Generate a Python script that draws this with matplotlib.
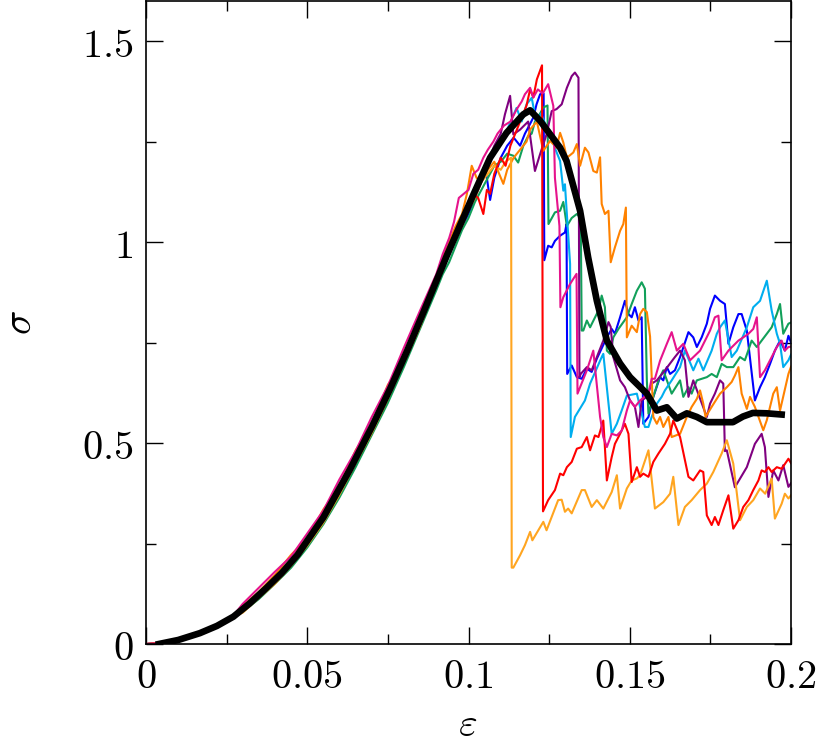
import numpy as np
import matplotlib
matplotlib.use("Agg")
import matplotlib.pyplot as plt
from matplotlib.ticker import MultipleLocator, FixedLocator, FixedFormatter

plt.rcParams['mathtext.fontset'] = 'cm'

# start of the loading branch, identical for all samples
start_x = [0.0, 0.005, 0.010, 0.0167, 0.022, 0.0265]
start_y = [0.0, 0.002, 0.010, 0.027, 0.045, 0.065]

# loading branch per sample, on a common strain grid
rise_x = [0.030, 0.035, 0.040, 0.045, 0.050, 0.055, 0.060, 0.065, 0.070, 0.075, 0.080, 0.085]
blue_rise = [0.085, 0.120, 0.158, 0.200, 0.252, 0.310, 0.380, 0.455, 0.530, 0.615, 0.700, 0.790]
red_rise = [0.088, 0.124, 0.163, 0.206, 0.258, 0.318, 0.388, 0.466, 0.545, 0.628, 0.716, 0.812]
green_rise = [0.080, 0.112, 0.150, 0.190, 0.240, 0.298, 0.365, 0.440, 0.520, 0.600, 0.690, 0.785]
purple_rise = [0.089, 0.125, 0.164, 0.208, 0.262, 0.320, 0.392, 0.468, 0.548, 0.630, 0.720, 0.815]
dorange_rise = [0.095, 0.130, 0.172, 0.222, 0.262, 0.335, 0.392, 0.482, 0.545, 0.645, 0.705, 0.805]
lorange_rise = [0.078, 0.115, 0.150, 0.195, 0.245, 0.302, 0.372, 0.450, 0.525, 0.610, 0.700, 0.790]
cyan_rise = [0.086, 0.121, 0.159, 0.202, 0.254, 0.313, 0.383, 0.460, 0.538, 0.620, 0.708, 0.800]
pink_rise = [0.100, 0.140, 0.180, 0.218, 0.275, 0.332, 0.410, 0.480, 0.565, 0.642, 0.738, 0.830]

# individual samples, from eps = 0.09 on
lorange_x = [0.090, 0.092, 0.094, 0.096, 0.098, 0.100, 0.102, 0.104, 0.106, 0.108, 0.110, 0.1115,
             0.1132, 0.1134, 0.1139, 0.1160, 0.1175, 0.1191, 0.1198, 0.1232, 0.1242, 0.1278, 0.1289,
             0.1299, 0.1309, 0.1320, 0.1351, 0.1361, 0.1382, 0.1398, 0.1418, 0.1444, 0.1460, 0.1470,
             0.1491, 0.1506, 0.1522, 0.1532, 0.1558, 0.1578, 0.1604, 0.1625, 0.1635, 0.1651, 0.1671,
             0.1692, 0.1718, 0.1739, 0.1759, 0.1785, 0.1801, 0.1821, 0.1842, 0.1863, 0.1883, 0.1904,
             0.1920, 0.1940, 0.1950, 0.1971, 0.1981, 0.1992, 0.2000]
lorange_y = [0.90, 0.93, 0.97, 1.02, 1.04, 1.08, 1.11, 1.15, 1.17, 1.19, 1.18, 1.20,
             1.21, 0.19, 0.19, 0.221, 0.246, 0.279, 0.258, 0.304, 0.283, 0.358, 0.359,
             0.329, 0.337, 0.325, 0.383, 0.383, 0.341, 0.358, 0.337, 0.378, 0.420, 0.337,
             0.387, 0.407, 0.412, 0.420, 0.482, 0.337, 0.353, 0.374, 0.416, 0.296, 0.341,
             0.358, 0.383, 0.399, 0.428, 0.474, 0.507, 0.449, 0.308, 0.341, 0.358, 0.387,
             0.374, 0.412, 0.312, 0.349, 0.374, 0.362, 0.37]

dorange_x = [0.090, 0.092, 0.094, 0.096, 0.098, 0.0995, 0.101, 0.1025, 0.104, 0.106, 0.108, 0.1095,
             0.1108, 0.112, 0.114, 0.116, 0.118, 0.1191, 0.1212, 0.1232, 0.1253, 0.1273, 0.1284,
             0.1294, 0.1305, 0.1325, 0.1336, 0.1346, 0.1361, 0.1372, 0.1387, 0.1398, 0.1408, 0.1413,
             0.1423, 0.1434, 0.1441, 0.1454, 0.1470, 0.1480, 0.1488, 0.1491, 0.1506, 0.1522, 0.1532,
             0.1542, 0.1553, 0.1563, 0.1573, 0.1584, 0.1594, 0.1604, 0.1620, 0.1630, 0.1656, 0.1677,
             0.1692, 0.1708, 0.1718, 0.1728, 0.1735, 0.1754, 0.1780, 0.1801, 0.1816, 0.1826, 0.1837,
             0.1847, 0.1863, 0.1873, 0.1888, 0.1914, 0.1925, 0.1945, 0.1956, 0.1966, 0.1992, 0.2000]
dorange_y = [0.91, 0.96, 1.00, 1.04, 1.07, 1.12, 1.19, 1.16, 1.15, 1.18, 1.20, 1.17,
             1.145, 1.18, 1.21, 1.23, 1.25, 1.28, 1.30, 1.227, 1.252, 1.235, 1.272,
             1.248, 1.21, 1.223, 1.244, 1.19, 1.235, 1.223, 1.177, 1.173, 1.211, 1.095,
             1.070, 1.078, 0.95, 0.987, 1.028, 1.045, 1.086, 0.763, 0.792, 0.776, 0.821,
             0.834, 0.826, 0.765, 0.565, 0.548, 0.565, 0.540, 0.565, 0.515, 0.523, 0.565,
             0.590, 0.610, 0.631, 0.598, 0.565, 0.590, 0.623, 0.639, 0.652, 0.668, 0.689,
             0.623, 0.585, 0.615, 0.590, 0.532, 0.557, 0.623, 0.639, 0.581, 0.672, 0.69]

red_x = [0.090, 0.092, 0.094, 0.096, 0.098, 0.100, 0.1015, 0.103, 0.1046, 0.1057, 0.1067, 0.108,
         0.110, 0.1115, 0.113, 0.115, 0.117, 0.118, 0.1191, 0.1201, 0.1212, 0.1228, 0.1231, 0.1247,
         0.1268, 0.1284, 0.1294, 0.1305, 0.1320, 0.1336, 0.1351, 0.1367, 0.1377, 0.1392, 0.1403,
         0.1418, 0.1429, 0.1444, 0.1454, 0.1470, 0.1485, 0.1496, 0.1506, 0.1522, 0.1532, 0.1542,
         0.1558, 0.1573, 0.1589, 0.1609, 0.1625, 0.1635, 0.1656, 0.1682, 0.1697, 0.1718, 0.1728,
         0.1739, 0.1754, 0.1764, 0.1775, 0.1790, 0.1806, 0.1821, 0.1837, 0.1852, 0.1868, 0.1883,
         0.1899, 0.1909, 0.1919, 0.1930, 0.1940, 0.1956, 0.1971, 0.1992, 0.2000]
red_y = [0.90, 0.94, 0.98, 1.02, 1.06, 1.10, 1.12, 1.11, 1.07, 1.13, 1.12, 1.17,
         1.21, 1.19, 1.24, 1.28, 1.32, 1.34, 1.38, 1.36, 1.405, 1.44, 0.33, 0.358,
         0.383, 0.424, 0.420, 0.440, 0.453, 0.486, 0.490, 0.515, 0.482, 0.519, 0.515,
         0.556, 0.407, 0.465, 0.498, 0.523, 0.548, 0.523, 0.403, 0.440, 0.416, 0.424,
         0.416, 0.453, 0.474, 0.498, 0.523, 0.556, 0.515, 0.416, 0.407, 0.432, 0.428,
         0.320, 0.296, 0.316, 0.296, 0.333, 0.370, 0.287, 0.308, 0.341, 0.358, 0.383,
         0.407, 0.432, 0.428, 0.440, 0.428, 0.440, 0.436, 0.461, 0.45]

blue_x = [0.090, 0.092, 0.094, 0.096, 0.098, 0.100, 0.102, 0.104, 0.1055, 0.1067, 0.108, 0.110,
          0.112, 0.114, 0.116, 0.1175, 0.1185, 0.1201, 0.1211, 0.1222, 0.1233, 0.1235, 0.1247,
          0.1258, 0.1268, 0.1284, 0.1299, 0.1304, 0.1306, 0.1320, 0.1336, 0.1351, 0.1367, 0.1382,
          0.1398, 0.1429, 0.1444, 0.1454, 0.1470, 0.1485, 0.1496, 0.1506, 0.1516, 0.1527, 0.1537,
          0.1542, 0.1558, 0.1573, 0.1594, 0.1604, 0.1615, 0.1625, 0.1640, 0.1656, 0.1682, 0.1697,
          0.1708, 0.1723, 0.1739, 0.1749, 0.1764, 0.1780, 0.1795, 0.1806, 0.1821, 0.1837, 0.1847,
          0.1863, 0.1888, 0.1904, 0.1919, 0.1935, 0.1950, 0.1966, 0.1981, 0.1992, 0.2000]
blue_y = [0.89, 0.93, 0.97, 1.01, 1.04, 1.07, 1.11, 1.15, 1.17, 1.105, 1.16, 1.21,
          1.24, 1.26, 1.24, 1.27, 1.285, 1.31, 1.343, 1.368, 1.37, 0.955, 0.991,
          0.987, 1.003, 1.016, 1.024, 1.045, 0.672, 0.693, 0.664, 0.660, 0.685, 0.677,
          0.710, 0.763, 0.784, 0.772, 0.813, 0.854, 0.821, 0.813, 0.838, 0.805, 0.813,
          0.548, 0.565, 0.615, 0.664, 0.656, 0.689, 0.672, 0.681, 0.714, 0.776, 0.763,
          0.739, 0.763, 0.797, 0.834, 0.867, 0.854, 0.846, 0.747, 0.788, 0.821, 0.821,
          0.780, 0.606, 0.639, 0.664, 0.697, 0.730, 0.755, 0.730, 0.767, 0.75]

green_x = [0.090, 0.092, 0.094, 0.096, 0.098, 0.100, 0.102, 0.104, 0.106, 0.108, 0.110, 0.112,
           0.1139, 0.1154, 0.1170, 0.1185, 0.1196, 0.1206, 0.1222, 0.1232, 0.1245, 0.1248, 0.1268,
           0.1284, 0.1294, 0.1305, 0.1320, 0.1336, 0.1348, 0.1351, 0.1356, 0.1367, 0.1377, 0.1403,
           0.1413, 0.1423, 0.1429, 0.1439, 0.1449, 0.1465, 0.1491, 0.1506, 0.1522, 0.1537, 0.1547,
           0.1553, 0.1558, 0.1573, 0.1589, 0.1604, 0.1630, 0.1656, 0.1666, 0.1682, 0.1692, 0.1708,
           0.1739, 0.1754, 0.1770, 0.1785, 0.1801, 0.1821, 0.1842, 0.1857, 0.1878, 0.1894, 0.1909,
           0.1925, 0.1940, 0.1956, 0.1966, 0.1976, 0.1992, 0.2000]
green_y = [0.88, 0.92, 0.95, 0.99, 1.03, 1.06, 1.10, 1.13, 1.16, 1.19, 1.20, 1.22,
           1.215, 1.198, 1.240, 1.264, 1.27, 1.30, 1.32, 1.335, 1.34, 1.045, 1.074,
           1.078, 1.10, 1.04, 1.06, 1.07, 1.06, 0.78, 0.780, 0.805, 0.788, 0.830,
           0.867, 0.838, 0.730, 0.722, 0.763, 0.784, 0.813, 0.846, 0.879, 0.900, 0.884,
           0.656, 0.573, 0.615, 0.656, 0.681, 0.623, 0.656, 0.615, 0.639, 0.623, 0.656,
           0.664, 0.672, 0.664, 0.697, 0.689, 0.689, 0.714, 0.706, 0.755, 0.739, 0.755,
           0.772, 0.788, 0.821, 0.846, 0.772, 0.797, 0.80]

purple_x = [0.090, 0.092, 0.094, 0.096, 0.098, 0.100, 0.102, 0.104, 0.106, 0.108, 0.110, 0.1113,
            0.1129, 0.1139, 0.1160, 0.1185, 0.1206, 0.1222, 0.1242, 0.1258, 0.1273, 0.1289, 0.1305,
            0.1320, 0.1330, 0.1341, 0.1344, 0.1348, 0.1367, 0.1382, 0.1398, 0.1418, 0.1434, 0.1441,
            0.1449, 0.1470, 0.1485, 0.1501, 0.1516, 0.1527, 0.1537, 0.1553, 0.1568, 0.1584, 0.1609,
            0.1640, 0.1656, 0.1671, 0.1682, 0.1697, 0.1739, 0.1749, 0.1764, 0.1780, 0.1790, 0.1795,
            0.1801, 0.1826, 0.1863, 0.1888, 0.1909, 0.1919, 0.1930, 0.1945, 0.1961, 0.1976, 0.1992,
            0.2000]
purple_y = [0.90, 0.94, 0.98, 1.02, 1.06, 1.09, 1.13, 1.16, 1.20, 1.24, 1.27, 1.318,
            1.364, 1.268, 1.28, 1.30, 1.177, 1.219, 1.268, 1.326, 1.331, 1.343, 1.384,
            1.413, 1.422, 1.409, 0.664, 0.672, 0.689, 0.681, 0.714, 0.755, 0.801, 0.789,
            0.714, 0.656, 0.639, 0.606, 0.590, 0.540, 0.606, 0.615, 0.648, 0.656, 0.681,
            0.714, 0.730, 0.706, 0.615, 0.656, 0.565, 0.598, 0.623, 0.656, 0.648, 0.48,
            0.482, 0.39, 0.440, 0.498, 0.523, 0.490, 0.366, 0.432, 0.407, 0.445, 0.391,
            0.40]

cyan_x = [0.090, 0.092, 0.094, 0.096, 0.098, 0.100, 0.102, 0.104, 0.106, 0.108, 0.110, 0.112,
          0.1149, 0.1165, 0.1180, 0.1196, 0.1210, 0.1225, 0.1240, 0.1258, 0.1270, 0.1284, 0.1294,
          0.1299, 0.1315, 0.1317, 0.1330, 0.1361, 0.1377, 0.1413, 0.1418, 0.1444, 0.1460, 0.1475,
          0.1491, 0.1522, 0.1547, 0.1558, 0.1568, 0.1584, 0.1599, 0.1609, 0.1630, 0.1656, 0.1671,
          0.1682, 0.1697, 0.1713, 0.1728, 0.1754, 0.1770, 0.1780, 0.1795, 0.1816, 0.1832, 0.1863,
          0.1883, 0.1904, 0.1925, 0.1940, 0.1956, 0.1966, 0.1976, 0.1992, 0.2000]
cyan_y = [0.90, 0.94, 0.98, 1.01, 1.05, 1.09, 1.12, 1.16, 1.19, 1.23, 1.26, 1.28,
          1.334, 1.30, 1.343, 1.359, 1.30, 1.32, 1.29, 1.27, 1.23, 1.202, 1.128,
          1.144, 0.946, 0.515, 0.565, 0.606, 0.648, 0.714, 0.722, 0.523, 0.548, 0.581,
          0.618, 0.623, 0.540, 0.540, 0.565, 0.598, 0.615, 0.631, 0.656, 0.689, 0.730,
          0.710, 0.681, 0.710, 0.681, 0.730, 0.772, 0.788, 0.805, 0.714, 0.730, 0.788,
          0.838, 0.854, 0.904, 0.830, 0.772, 0.747, 0.689, 0.706, 0.72]

pink_x = [0.090, 0.092, 0.094, 0.0955, 0.097, 0.0985, 0.100, 0.1015, 0.103, 0.1046, 0.106, 0.1077,
          0.109, 0.111, 0.113, 0.1149, 0.1165, 0.1175, 0.1191, 0.1201, 0.1215, 0.1230, 0.1247,
          0.1263, 0.1268, 0.1282, 0.1285, 0.1294, 0.1315, 0.1335, 0.1338, 0.1367, 0.1387, 0.1408,
          0.1418, 0.1429, 0.1444, 0.1460, 0.1475, 0.1491, 0.1501, 0.1516, 0.1532, 0.1558, 0.1568,
          0.1578, 0.1594, 0.1615, 0.1630, 0.1646, 0.1666, 0.1687, 0.1718, 0.1749, 0.1764, 0.1775,
          0.1785, 0.1806, 0.1837, 0.1852, 0.1868, 0.1883, 0.1894, 0.1904, 0.1919, 0.1935, 0.1956,
          0.1971, 0.1981, 0.1992, 0.2000]
pink_y = [0.92, 0.97, 1.01, 1.05, 1.11, 1.12, 1.13, 1.17, 1.18, 1.21, 1.23, 1.25,
          1.27, 1.29, 1.30, 1.33, 1.35, 1.368, 1.384, 1.36, 1.38, 1.37, 1.393,
          1.339, 1.16, 1.04, 0.838, 0.863, 0.896, 0.921, 0.623, 0.681, 0.730, 0.565,
          0.515, 0.490, 0.523, 0.519, 0.531, 0.581, 0.606, 0.590, 0.606, 0.623, 0.660,
          0.660, 0.705, 0.747, 0.776, 0.730, 0.747, 0.706, 0.730, 0.780, 0.813, 0.817,
          0.706, 0.730, 0.755, 0.763, 0.772, 0.784, 0.813, 0.664, 0.681, 0.706, 0.739,
          0.755, 0.730, 0.739, 0.74]

# ensemble average
mean_x = [0.004, 0.0064, 0.010, 0.0167, 0.022, 0.0271, 0.032, 0.0374, 0.042, 0.047, 0.055,
          0.0633, 0.070, 0.0757, 0.081, 0.086, 0.0932, 0.1015, 0.1067, 0.1118, 0.117, 0.1191,
          0.1222, 0.1284, 0.1304, 0.1346, 0.1371, 0.1398, 0.1429, 0.147, 0.1501, 0.1553, 0.1584,
          0.1615, 0.1646, 0.1677, 0.1708, 0.1739, 0.182, 0.1851, 0.1882, 0.1925, 0.1971]
mean_y = [0.0, 0.004, 0.010, 0.027, 0.045, 0.068, 0.100, 0.140, 0.176, 0.222, 0.315,
          0.435, 0.540, 0.635, 0.730, 0.825, 0.965, 1.118, 1.21, 1.272, 1.318, 1.328,
          1.302, 1.235, 1.202, 1.078, 0.962, 0.854, 0.755, 0.698, 0.664, 0.623, 0.581,
          0.589, 0.561, 0.574, 0.565, 0.552, 0.552, 0.566, 0.575, 0.574, 0.571]

x_ticks = [0, 0.05, 0.1, 0.15, 0.2]
x_labels = ['$0$', '$0.05$', '$0.1$', '$0.15$', '$0.2$']
y_ticks = [0, 0.5, 1, 1.5]
y_labels = ['$0$', '$0.5$', '$1$', '$1.5$']

series = [
    (blue_rise, blue_x, blue_y, '#0000FF'),
    (green_rise, green_x, green_y, '#12A05A'),
    (cyan_rise, cyan_x, cyan_y, '#00AEEF'),
    (purple_rise, purple_x, purple_y, '#800080'),
    (dorange_rise, dorange_x, dorange_y, '#FF8200'),
    (lorange_rise, lorange_x, lorange_y, '#FFA520'),
    (red_rise, red_x, red_y, '#FF0000'),
    (pink_rise, pink_x, pink_y, '#E6138C'),
]

fig = plt.figure(figsize=(8.31, 7.51), dpi=100)
ax = fig.add_axes([146 / 831, 1 - 644 / 751, 645 / 831, 643 / 751])

for ry, xs, ys, col in series:
    ax.plot(np.r_[start_x, rise_x, xs], np.r_[start_y, ry, ys], color=col, lw=1.5, zorder=2)
ax.plot(mean_x, mean_y, color='black', lw=4.8, zorder=3)

ax.set_xlim(0, 0.2)
ax.set_ylim(0, 1.6)
ax.xaxis.set_major_locator(FixedLocator(x_ticks))
ax.xaxis.set_major_formatter(FixedFormatter(x_labels))
ax.xaxis.set_minor_locator(MultipleLocator(0.025))
ax.yaxis.set_major_locator(FixedLocator(y_ticks))
ax.yaxis.set_major_formatter(FixedFormatter(y_labels))
ax.yaxis.set_minor_locator(MultipleLocator(0.25))

ax.tick_params(which='both', direction='in', top=True, right=True, width=1.0)
ax.tick_params(which='major', length=12, labelsize=29, pad=9)
ax.tick_params(which='minor', length=7.5)
for sp in ax.spines.values():
    sp.set_linewidth(1.2)

ax.set_xlabel(r'$\varepsilon$', fontsize=29)
ax.set_ylabel(r'$\sigma$', fontsize=29)
ax.xaxis.set_label_coords(0.499, -0.095)
ax.yaxis.set_label_coords(-0.165, 0.5)

fig.savefig('out.png', dpi=100)
